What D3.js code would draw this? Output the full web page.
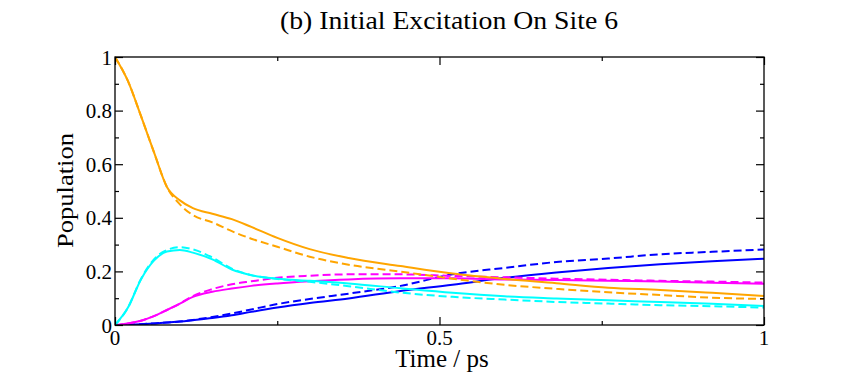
<!DOCTYPE html>
<html>
<head>
<meta charset="utf-8">
<script src="https://cdnjs.cloudflare.com/ajax/libs/d3/7.8.5/d3.min.js"></script>
<style>
  body { margin: 0; background: #fff; }
  text { font-family: "Liberation Serif", "Times New Roman", serif; fill: #000; }
</style>
</head>
<body>
<script>
// time grid (ps) shared by every series
var time = [0, 0.02, 0.04, 0.06, 0.08, 0.1, 0.12, 0.15, 0.18, 0.21, 0.25, 0.3, 0.36, 0.44, 0.52, 0.6, 0.68, 0.76, 0.84, 0.92, 1.0];

var site6 = [1, 0.91, 0.78, 0.645, 0.515, 0.465, 0.436, 0.415, 0.395, 0.366, 0.325, 0.283, 0.25, 0.22, 0.192, 0.172, 0.156, 0.139, 0.131, 0.12, 0.108];
var site6Ref = [1, 0.91, 0.78, 0.645, 0.515, 0.45, 0.41, 0.383, 0.35, 0.322, 0.292, 0.255, 0.225, 0.199, 0.173, 0.15, 0.135, 0.122, 0.112, 0.102, 0.097];
var cyanSolid = [0, 0.065, 0.17, 0.24, 0.274, 0.28, 0.27, 0.245, 0.207, 0.186, 0.173, 0.165, 0.155, 0.137, 0.12, 0.107, 0.099, 0.092, 0.086, 0.079, 0.071];
var cyanDash = [0, 0.065, 0.172, 0.245, 0.28, 0.29, 0.282, 0.252, 0.21, 0.186, 0.172, 0.161, 0.145, 0.121, 0.105, 0.095, 0.086, 0.08, 0.074, 0.07, 0.065];
var magSolid = [0, 0.006, 0.016, 0.033, 0.056, 0.08, 0.105, 0.124, 0.136, 0.146, 0.155, 0.163, 0.17, 0.174, 0.174, 0.17, 0.168, 0.165, 0.162, 0.158, 0.154];
var magDash = [0, 0.006, 0.016, 0.033, 0.056, 0.08, 0.108, 0.134, 0.152, 0.163, 0.176, 0.184, 0.189, 0.189, 0.183, 0.178, 0.173, 0.169, 0.165, 0.162, 0.158];
var blueSolid = [0, 0.001, 0.003, 0.006, 0.009, 0.013, 0.018, 0.026, 0.036, 0.049, 0.065, 0.082, 0.099, 0.127, 0.15, 0.176, 0.196, 0.213, 0.227, 0.238, 0.247];
var blueDash = [0, 0.001, 0.003, 0.006, 0.009, 0.013, 0.019, 0.03, 0.043, 0.058, 0.078, 0.097, 0.117, 0.146, 0.189, 0.213, 0.235, 0.248, 0.264, 0.273, 0.282];

var xTicks = [0, 0.5, 1];
var xMinor = [0.25, 0.75];
var yTicks = [0, 0.2, 0.4, 0.6, 0.8, 1];
var yMinor = [0.1, 0.3, 0.5, 0.7, 0.9];

var series = [
  {v: blueSolid, c: "#0000ff", dash: null},
  {v: blueDash, c: "#0000ff", dash: "8,4"},
  {v: magSolid, c: "#ff00ff", dash: null},
  {v: magDash, c: "#ff00ff", dash: "8,4"},
  {v: cyanSolid, c: "#00ffff", dash: null},
  {v: cyanDash, c: "#00ffff", dash: "8,4"},
  {v: site6, c: "#ffa500", dash: null},
  {v: site6Ref, c: "#ffa500", dash: "8,4"}
];

var W = 841, H = 382;
var mLeft = 115, mRight = 764, mTop = 57, mBottom = 325;

var svg = d3.select("body").append("svg")
  .attr("width", W)
  .attr("height", H);

var x = d3.scaleLinear().domain([0, 1]).range([mLeft, mRight]);
var y = d3.scaleLinear().domain([0, 1]).range([mBottom, mTop]);

svg.append("clipPath").attr("id", "plot")
  .append("rect")
  .attr("x", mLeft).attr("y", mTop - 2)
  .attr("width", mRight - mLeft).attr("height", mBottom - mTop + 2);

var line = d3.line()
  .x(function(d, i) { return x(time[i]); })
  .y(function(d) { return y(d); })
  .curve(d3.curveMonotoneX);

svg.append("g").attr("clip-path", "url(#plot)")
  .selectAll("path")
  .data(series)
  .enter()
  .append("path")
  .attr("d", function(d) { return line(d.v); })
  .attr("fill", "none")
  .attr("stroke", function(d) { return d.c; })
  .attr("stroke-width", 2)
  .attr("stroke-dasharray", function(d) { return d.dash; });

// ticks point inward on all four sides, labels drawn separately
function tickAxis(axis, pos) {
  svg.append("g").attr("transform", pos).call(axis)
    .call(function(g) { g.select(".domain").remove(); })
    .call(function(g) { g.selectAll("text").remove(); });
}

tickAxis(d3.axisBottom(x).tickValues(xTicks).tickSizeInner(-8).tickSizeOuter(0), "translate(0," + mBottom + ")");
tickAxis(d3.axisBottom(x).tickValues(xMinor).tickSizeInner(-4).tickSizeOuter(0), "translate(0," + mBottom + ")");
tickAxis(d3.axisTop(x).tickValues(xTicks).tickSizeInner(-8).tickSizeOuter(0), "translate(0," + mTop + ")");
tickAxis(d3.axisTop(x).tickValues(xMinor).tickSizeInner(-4).tickSizeOuter(0), "translate(0," + mTop + ")");
tickAxis(d3.axisLeft(y).tickValues(yTicks).tickSizeInner(-8).tickSizeOuter(0), "translate(" + mLeft + ",0)");
tickAxis(d3.axisLeft(y).tickValues(yMinor).tickSizeInner(-4).tickSizeOuter(0), "translate(" + mLeft + ",0)");
tickAxis(d3.axisRight(y).tickValues(yTicks).tickSizeInner(-8).tickSizeOuter(0), "translate(" + mRight + ",0)");
tickAxis(d3.axisRight(y).tickValues(yMinor).tickSizeInner(-4).tickSizeOuter(0), "translate(" + mRight + ",0)");

svg.selectAll(".tick line").attr("stroke", "#000").attr("stroke-width", 1.2);

svg.append("rect")
  .attr("x", mLeft).attr("y", mTop)
  .attr("width", mRight - mLeft).attr("height", mBottom - mTop)
  .attr("fill", "none")
  .attr("stroke", "#000")
  .attr("stroke-width", 1.3);

// tick labels
svg.selectAll(".xlab")
  .data(xTicks)
  .enter()
  .append("text")
  .attr("class", "xlab")
  .attr("x", function(d) { return x(d); })
  .attr("y", 345)
  .attr("text-anchor", "middle")
  .attr("font-size", 21)
  .text(function(d) { return d; });

svg.selectAll(".ylab")
  .data(yTicks)
  .enter()
  .append("text")
  .attr("class", "ylab")
  .attr("x", mLeft - 3)
  .attr("y", function(d) { return y(d) + 7.5; })
  .attr("text-anchor", "end")
  .attr("font-size", 21)
  .text(function(d) { return d; });

svg.append("text")
  .attr("x", 442)
  .attr("y", 367)
  .attr("text-anchor", "middle")
  .attr("font-size", 25)
  .text("Time / ps");

svg.append("text")
  .attr("transform", "translate(73,190.5) rotate(-90)")
  .attr("text-anchor", "middle")
  .attr("font-size", 24)
  .attr("textLength", 115)
  .attr("lengthAdjust", "spacingAndGlyphs")
  .text("Population");

svg.append("text")
  .attr("x", 449)
  .attr("y", 29)
  .attr("text-anchor", "middle")
  .attr("font-size", 26)
  .attr("textLength", 338)
  .attr("lengthAdjust", "spacingAndGlyphs")
  .text("(b) Initial Excitation On Site 6");
</script>
</body>
</html>
